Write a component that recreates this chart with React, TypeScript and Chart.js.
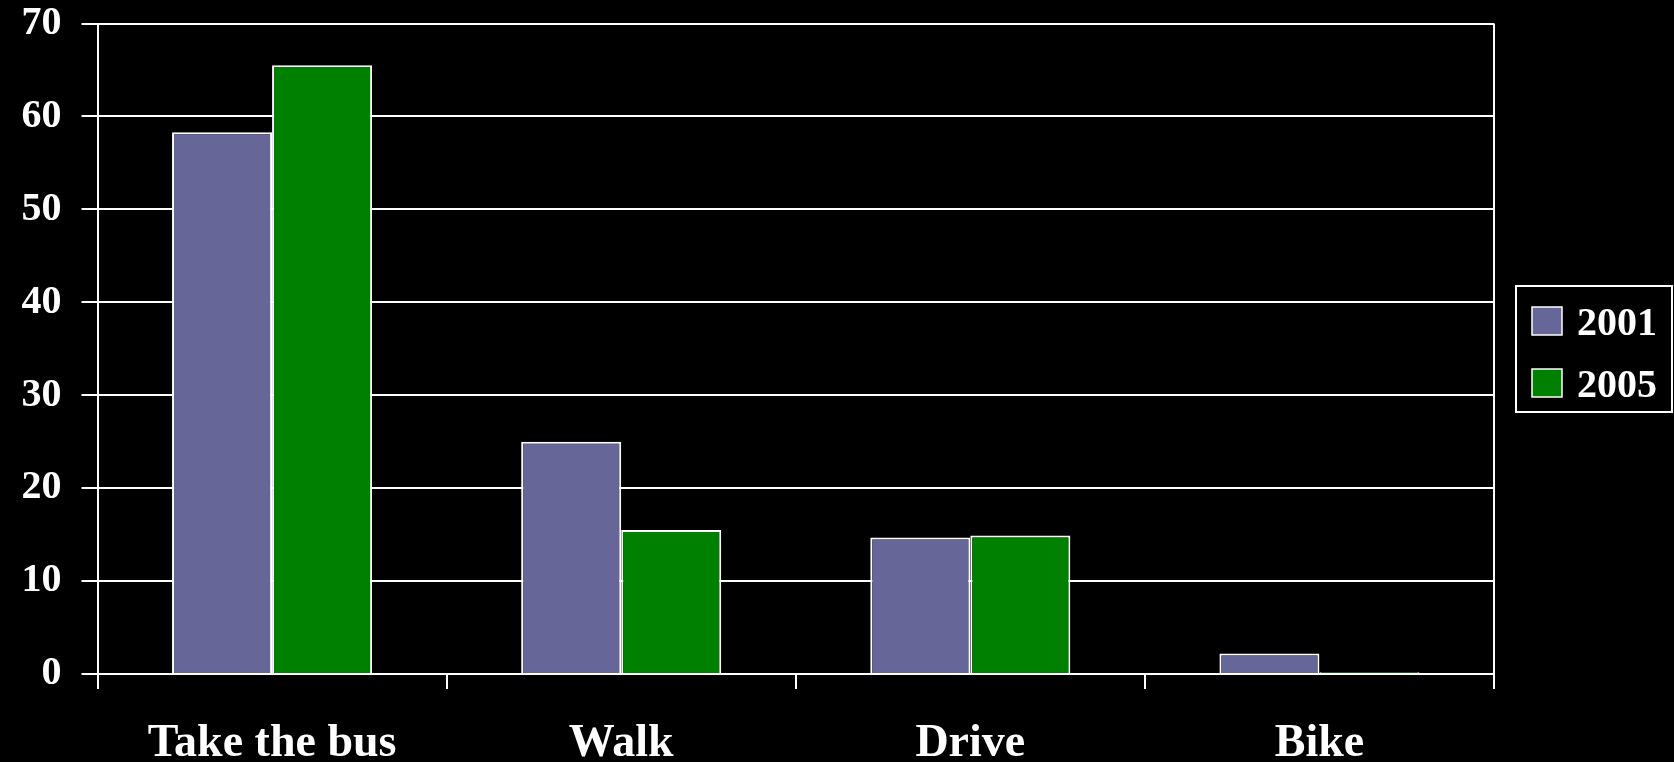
import React, { useEffect, useRef } from "react";
import { Chart, registerables } from "chart.js";

Chart.register(...registerables);

const categories = ["Take the bus", "Walk", "Drive", "Bike"];
const seriesNames = ["2001", "2005"];
const values2001 = [58.3, 25, 14.7, 2.2];
const values2005 = [65.5, 15.5, 14.9, 0.2];
const seriesColors = ["#666699", "#008000"];
const yTicks = [0, 10, 20, 30, 40, 50, 60, 70];

const FONT = "'Liberation Serif', 'DejaVu Serif', serif";

const bgAndLegend = {
  id: "bgAndLegend",
  beforeDraw(chart: any) {
    const ctx = chart.ctx;
    ctx.save();
    ctx.fillStyle = "#000000";
    ctx.fillRect(0, 0, chart.width, chart.height);
    ctx.restore();
  },
  afterDraw(chart: any) {
    const ctx = chart.ctx;
    const a = chart.chartArea;
    ctx.save();
    // right border of plot
    ctx.strokeStyle = "#ffffff";
    ctx.lineWidth = 2;
    ctx.beginPath();
    ctx.moveTo(a.right, a.top);
    ctx.lineTo(a.right, a.bottom);
    ctx.stroke();
    // legend box
    const lx = a.right + 22;
    const ly = 286;
    const lw = chart.width - lx - 2;
    const lh = 126;
    ctx.lineWidth = 2;
    ctx.strokeRect(lx, ly, lw, lh);
    chart.data.datasets.forEach((ds: any, i: number) => {
      const sy = ly + 21 + i * 62;
      ctx.fillStyle = ds.backgroundColor;
      ctx.fillRect(lx + 16, sy, 30, 28);
      ctx.lineWidth = 1.5;
      ctx.strokeStyle = "#ffffff";
      ctx.strokeRect(lx + 16, sy, 30, 28);
      ctx.fillStyle = "#ffffff";
      ctx.font = `bold 40px ${FONT}`;
      ctx.textBaseline = "alphabetic";
      ctx.textAlign = "left";
      ctx.fillText(ds.label, lx + 61, sy + 28);
    });
    ctx.restore();
  },
};

export default function App() {
  const ref = useRef<HTMLCanvasElement | null>(null);
  useEffect(() => {
    document.body.style.margin = "0";
    document.body.style.background = "#000";
    const chart = new Chart(ref.current as HTMLCanvasElement, {
      type: "bar",
      data: {
        labels: categories,
        datasets: [
          {
            label: seriesNames[0],
            data: values2001,
            backgroundColor: seriesColors[0],
            borderColor: "#ffffff",
            borderWidth: 2,
          },
          {
            label: seriesNames[1],
            data: values2005,
            backgroundColor: seriesColors[1],
            borderColor: "#ffffff",
            borderWidth: 2,
          },
        ],
      },
      options: {
        animation: false,
        responsive: false,
        devicePixelRatio: 1,
        datasets: {
          bar: { categoryPercentage: 0.573, barPercentage: 1 },
        },
        layout: { padding: { left: 0, right: 180, top: 23.5, bottom: 0 } },
        plugins: { legend: { display: false }, tooltip: { enabled: false } },
        scales: {
          x: {
            grid: {
              offset: true,
              drawOnChartArea: false,
              drawTicks: true,
              tickLength: 15,
              color: "#ffffff",
              lineWidth: 2,
            },
            border: { display: true, color: "#ffffff", width: 2 },
            ticks: {
              color: "#ffffff",
              font: { family: FONT, size: 46, weight: "bold", lineHeight: 1 },
              padding: 32,
              maxRotation: 0,
              autoSkip: false,
            },
            afterFit(scale: any) {
              scale.height = 88;
              scale.paddingLeft = 0;
              scale.paddingRight = 0;
            },
          },
          y: {
            min: 0,
            max: 70,
            afterBuildTicks(scale: any) {
              scale.ticks = yTicks.map((v) => ({ value: v }));
            },
            grid: {
              color: "#ffffff",
              lineWidth: 2,
              drawTicks: true,
              tickLength: 16,
            },
            border: { display: true, color: "#ffffff", width: 2 },
            ticks: {
              color: "#ffffff",
              font: { family: FONT, size: 40, weight: "bold", lineHeight: 1 },
              padding: 20,
            },
            afterFit(scale: any) {
              scale.width = 97.5;
              scale.paddingTop = 0;
              scale.paddingBottom = 0;
            },
          },
        },
      },
      plugins: [bgAndLegend],
    });
    return () => chart.destroy();
  }, []);
  return (
    <div style={{ width: 1674, height: 762, background: "#000" }}>
      <canvas ref={ref} width={1674} height={762} style={{ display: "block" }} />
    </div>
  );
}
